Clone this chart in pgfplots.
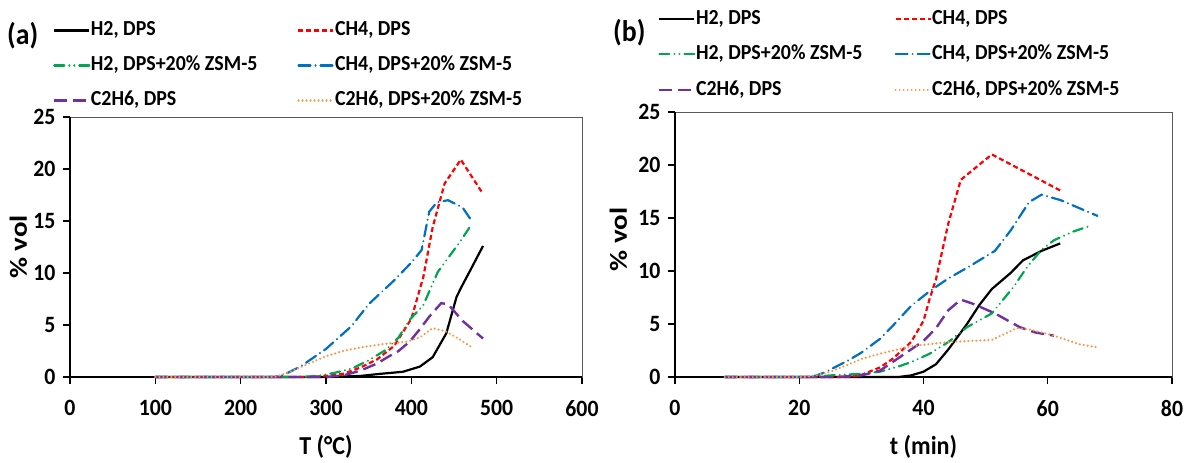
\documentclass[border=0pt]{standalone}
\usepackage{graphicx}
\usepackage{pgfplots}
\pgfplotsset{compat=1.18}
\usepackage{fontspec}
\setmainfont{Carlito}[FakeStretch=0.93, BoldFeatures={FakeStretch=0.93}]
\newfontfamily\labfont{Carlito}
\definecolor{cred}{HTML}{FF0000}
\definecolor{cgreen}{HTML}{00A650}
\definecolor{cblue}{HTML}{0070C0}
\definecolor{cpurple}{HTML}{7030A0}
\definecolor{corange}{HTML}{F79646}
\newcommand{\ca}[1]{\makebox[206bp][l]{#1}}
\newcommand{\cb}[1]{\makebox[198bp][l]{#1}}
\pgfplotsset{
 common/.style={
  scale only axis, anchor=south west, clip=false,
  ymin=0, ymax=25, ytick={0,5,...,25},
  tick align=outside, xtick pos=bottom, ytick pos=left,
  major tick length=7bp,
  tick style={black, line width=1.4bp},
  axis line style={draw=gray!70!black, line width=0.8bp},
  /pgf/number format/assume math mode=true,
  ticklabel style={font=\bfseries\fontsize{23.5}{28}\selectfont},
  yticklabel style={xshift=-4bp},
  xticklabel style={yshift=-13bp},
  xlabel style={font=\bfseries\fontsize{26}{30}\selectfont, at={(axis description cs:0.5,0)}, anchor=base, yshift=-77bp},
  ylabel style={font=\labfont\bfseries\fontsize{29}{34}\selectfont, anchor=base, rotate=0},
  legend columns=2, legend cell align=left,
  legend image code/.code={\draw[line width=2.2bp, ##1] (0bp,0bp) -- (35bp,0bp);},
 },
 sH2/.style={black, line width=2.2bp},
 sCH4/.style={cred, line width=2.2bp, dash pattern=on 5bp off 3bp},
 sH2Z/.style={cgreen, line width=2.2bp, line cap=round, dash pattern=on 10bp off 5bp on 0.01bp off 5bp on 0.01bp off 5bp},
 sCH4Z/.style={cblue, line width=2.2bp, line cap=round, dash pattern=on 12bp off 5bp on 0.01bp off 5bp},
 sC2/.style={cpurple, line width=2.4bp, dash pattern=on 13bp off 6bp},
 sC2Z/.style={corange, line width=2.4bp, line cap=round, dash pattern=on 0.01bp off 4bp},
}
\begin{document}
\begin{tikzpicture}
\path[use as bounding box] (0bp,0bp) rectangle (1189bp,463bp);
\begin{axis}[common, at={(70bp,86bp)}, width=512bp, height=260bp,
  xmin=0, xmax=600, xtick={0,100,...,600},
  xlabel={T (°C)}, ylabel={\scalebox{1}[0.85]{\% vol}},
  ylabel style={at={(axis description cs:-0.084,0.5)}},
  legend style={draw=none, fill=none, font=\bfseries\fontsize{21.5}{26}\selectfont,
    at={(axis description cs:-0.0332,1.376)}, anchor=north west, inner sep=0pt,
    row sep=13bp, column sep=0pt,
    nodes={inner sep=0.5bp, text height=16bp, text depth=5bp}},
]
\draw[black, line width=2bp] (rel axis cs:0,1) -- (rel axis cs:0,0) -- (rel axis cs:1,0);
\addplot[sH2] coordinates {(100,0)(300,0)(340,0.1)(363,0.3)(390,0.5)(410,1.0)(425,1.9)(441,4.2)(453,7.7)(459,8.7)(470,10.4)(484,12.6)};
\addlegendentry{\ca{H2, DPS}}
\addplot[sCH4] coordinates {(100,0)(280,0)(300,0.1)(320,0.3)(340,0.9)(360,1.7)(380,3.0)(400,5.6)(414,9.6)(425,14.4)(439,18.6)(458,20.9)(484,17.6)};
\addlegendentry{CH4, DPS}
\addplot[sH2Z] coordinates {(100,0)(270,0)(290,0.1)(310,0.4)(330,0.8)(350,1.6)(370,2.6)(385,3.8)(398,5.5)(414,6.9)(431,10.1)(457,13.0)(470,14.6)};
\addlegendentry{\ca{H2, DPS+20\% ZSM-5}}
\addplot[sCH4Z] coordinates {(100,0)(240,0)(250,0.2)(270,1.0)(300,2.7)(330,4.9)(350,7.0)(380,9.3)(400,11.0)(412,12.2)(421,15.9)(430,16.8)(443,17.0)(460,16.3)(470,15.1)};
\addlegendentry{CH4, DPS+20\% ZSM-5}
\addplot[sC2] coordinates {(100,0)(300,0)(320,0.15)(340,0.6)(360,1.3)(372,1.9)(385,2.5)(398,3.4)(410,4.6)(421,5.8)(435,7.1)(443,7.0)(460,5.4)(484,3.7)};
\addlegendentry{\ca{C2H6, DPS}}
\addplot[sC2Z] coordinates {(100,0)(240,0)(255,0.4)(280,1.3)(300,2.0)(320,2.5)(345,2.9)(370,3.2)(395,3.4)(410,3.8)(425,4.7)(440,4.4)(455,3.7)(470,2.9)};
\addlegendentry{C2H6, DPS+20\% ZSM-5}
\end{axis}
\begin{axis}[common, at={(675bp,86bp)}, width=497bp, height=265bp,
  xmin=0, xmax=80, xtick={0,20,...,80},
  xlabel={t (min)}, ylabel={\scalebox{1}[0.85]{\% vol}},
  ylabel style={at={(axis description cs:-0.097,0.52)}},
  legend style={draw=none, fill=none, font=\bfseries\fontsize{21.5}{26}\selectfont,
    at={(axis description cs:-0.034,1.394)}, anchor=north west, inner sep=0pt,
    row sep=13.5bp, column sep=0pt,
    nodes={inner sep=0.5bp, text height=16bp, text depth=5bp}},
]
\draw[black, line width=2bp] (rel axis cs:0,1) -- (rel axis cs:0,0) -- (rel axis cs:1,0);
\addplot[sH2] coordinates {(8,0)(36,0)(38,0.15)(40,0.5)(42,1.2)(44,2.6)(45.5,3.8)(47,5.0)(49,6.8)(51,8.3)(54,9.8)(56,11.0)(59,11.9)(62,12.6)};
\addlegendentry{\cb{H2, DPS}}
\addplot[sCH4] coordinates {(8,0)(28,0)(30,0.2)(33,0.9)(35,1.7)(38,3.3)(40,5.3)(41,7.4)(42,9.2)(44,14.5)(46,18.6)(51,21.0)(62,17.6)};
\addlegendentry{CH4, DPS}
\addplot[sH2Z] coordinates {(8,0)(22,0)(25,0.15)(30,0.3)(33,0.5)(36,1.0)(38,1.4)(41,2.2)(44,3.3)(47,4.7)(51,6.0)(54.5,8.5)(56.7,10.4)(59,12.0)(61,12.9)(64,13.7)(67,14.3)};
\addlegendentry{\cb{H2, DPS+20\% ZSM-5}}
\addplot[sCH4Z] coordinates {(8,0)(22,0)(24,0.4)(26,1.0)(28,1.6)(30,2.3)(33,3.6)(35,4.8)(38,6.7)(41,8.1)(44,9.3)(47,10.3)(51.5,11.9)(54,13.8)(57,16.5)(59,17.2)(62,16.7)(68,15.2)};
\addlegendentry{CH4, DPS+20\% ZSM-5}
\addplot[sC2] coordinates {(8,0)(26,0)(30,0.15)(33,0.6)(35,1.4)(38,2.6)(40,3.4)(42,4.6)(44,6.3)(46,7.3)(48,6.9)(51.5,6.0)(55.5,4.7)(58,4.2)(61,3.9)};
\addlegendentry{\cb{C2H6, DPS}}
\addplot[sC2Z] coordinates {(8,0)(21,0)(23,0.2)(25,0.5)(28,1.2)(30,1.7)(33,2.2)(38,2.9)(44,3.3)(51,3.5)(55,4.6)(57,4.5)(61,3.9)(65,3.1)(68,2.8)};
\addlegendentry{C2H6, DPS+20\% ZSM-5}
\end{axis}
\node[anchor=base west, inner sep=0pt, font=\bfseries\fontsize{30}{34}\selectfont] at (7bp,418bp) {(a)};
\node[anchor=base west, inner sep=0pt, font=\bfseries\fontsize{30}{34}\selectfont] at (613bp,421bp) {(b)};
\end{tikzpicture}
\end{document}
